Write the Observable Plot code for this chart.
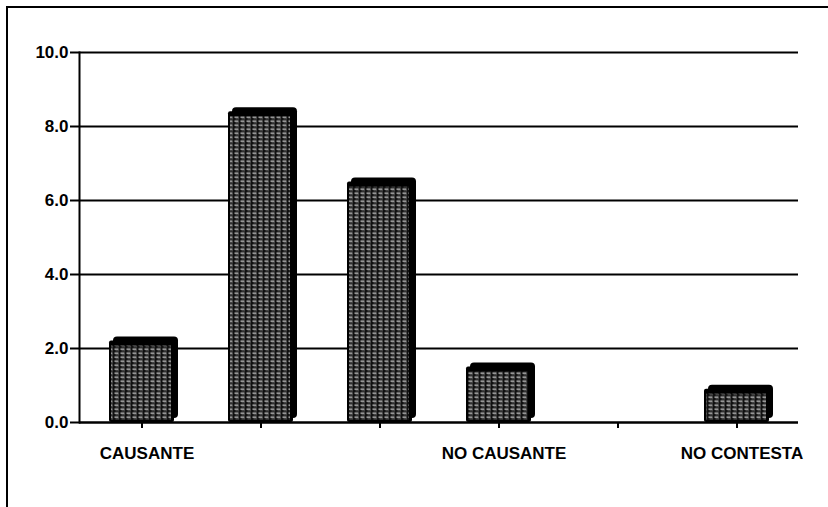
<!DOCTYPE html>
<html><head><meta charset="utf-8">
<script src="https://cdn.jsdelivr.net/npm/d3@7"></script>
<script src="https://cdn.jsdelivr.net/npm/@observablehq/plot@0.6"></script>
<style>
body{margin:0;background:#fff;}
#wrap{position:relative;width:828px;height:507px;overflow:hidden;}
#border{position:absolute;left:6px;top:6px;width:840px;height:520px;border-left:2px solid #000;border-top:2px solid #000;pointer-events:none;}
#wrap svg{position:absolute;left:0;top:0;}
#wrap svg text{font-weight:bold;}
</style></head><body><div id="wrap"><div id="border"></div></div>
<script>
const slots = ["s1","s2","s3","s4","s5","s6"];
const tickLabels = ["CAUSANTE","","","NO CAUSANTE","","NO CONTESTA"];
const values = [2.2, 8.4, 6.5, 1.5, null, 0.9];
const yTicks = [0, 2, 4, 6, 8, 10];

const bars = slots.map((s, i) => ({slot: s, value: values[i]})).filter(d => d.value != null);
const labels = slots.map((s, i) => ({slot: s, label: tickLabels[i]})).filter(d => d.label);

const svg = Plot.plot({
  width: 828, height: 507,
  marginLeft: 79, marginRight: 30, marginTop: 52, marginBottom: 85,
  style: {fontFamily: "'Liberation Sans', Arial, sans-serif", background: "transparent", color: "#000", overflow: "visible"},
  x: {type: "band", domain: slots, padding: 0, label: null},
  y: {domain: [0, 10], label: null},
  marks: [
    Plot.ruleY(yTicks, {stroke: "#000", strokeWidth: 2}),
    Plot.frame({anchor: "left", stroke: "#000", strokeWidth: 2}),
    Plot.axisY({ticks: yTicks, tickFormat: d => d.toFixed(1), tickSize: 9, tickPadding: 2, fontSize: 17, strokeWidth: 2, label: null}),
    Plot.axisX({tickSize: 6, tickFormat: () => "", strokeWidth: 2, label: null}),
    Plot.barY(bars, {x: "slot", y: "value", fill: "#000", insetLeft: 27, insetRight: 27, dx: 4, dy: -4, rx: 4}),
    Plot.barY(bars, {x: "slot", y: "value", fill: "#000", insetLeft: 27, insetRight: 27, rx: 2}),
    Plot.barY(bars, {x: "slot", y: "value", fill: "url(#dash)", insetLeft: 29, insetRight: 30, insetTop: 5, insetBottom: 2}),
    Plot.ruleY([0], {stroke: "#000", strokeWidth: 2}),
    Plot.text(labels, {x: "slot", text: "label", frameAnchor: "bottom", dy: 36, dx: 5, fontSize: 17})
  ]
});

const defs = d3.select(svg).insert("defs", ":first-child");
const pat = defs.append("pattern").attr("id", "dash").attr("patternUnits", "userSpaceOnUse").attr("width", 6).attr("height", 4);
pat.append("rect").attr("width", 6).attr("height", 4).attr("fill", "#111");
pat.append("rect").attr("x", 0.5).attr("y", 0.6).attr("width", 4).attr("height", 1).attr("fill", "#eee");
pat.append("rect").attr("x", 1.5).attr("y", 2.5).attr("width", 3.5).attr("height", 0.8).attr("fill", "#777");

document.getElementById("wrap").appendChild(svg);
</script>
</body></html>
